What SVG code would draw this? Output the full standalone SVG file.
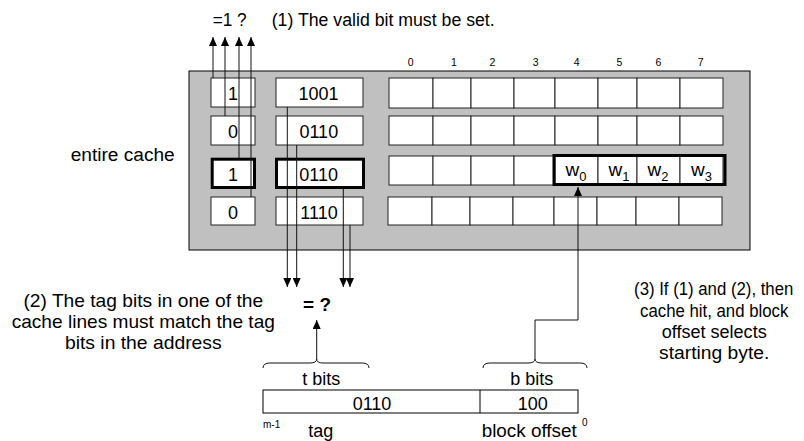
<svg xmlns="http://www.w3.org/2000/svg" width="804" height="441" viewBox="0 0 804 441">
<style>
text{font-family:"Liberation Sans",Arial,sans-serif;fill:#000}
.t{font-size:18px}
.c{font-size:18px;text-anchor:middle}
.col{font-size:10.5px;text-anchor:middle}
.sm{font-size:10px}
.cell{fill:#fff;stroke:#222;stroke-width:1}
.thick{fill:#fff;stroke:#000;stroke-width:3}
.ln{fill:none;stroke:#111;stroke-width:1}
.br{fill:none;stroke:#111;stroke-width:1}
</style>
<defs>
<marker id="ah" viewBox="0 0 9 8" refX="9" refY="4" markerWidth="9" markerHeight="8" markerUnits="userSpaceOnUse" orient="auto"><path d="M0,0 L9,4 L0,8 z" fill="#000"/></marker>
</defs>

<g id="cache">
<rect x="189" y="71" width="561" height="179" fill="#c0c0c0" stroke="#000" stroke-width="1"/>
</g>

<g id="valid-bits">
<rect class="cell" x="211" y="78" width="44" height="29"/>
<rect class="cell" x="211" y="116" width="44" height="29"/>
<rect class="thick" x="212.2" y="159.2" width="42.3" height="28.3"/>
<rect class="cell" x="211" y="197" width="44" height="28"/>
<text class="c" x="233" y="100">1</text>
<text class="c" x="233" y="138">0</text>
<text class="c" x="233" y="180.5">1</text>
<text class="c" x="233" y="218.5">0</text>
</g>

<g id="tags">
<rect class="cell" x="276" y="78" width="87" height="29"/>
<rect class="cell" x="276" y="116" width="87" height="29"/>
<rect class="thick" x="276.5" y="159.2" width="87" height="28.3"/>
<rect class="cell" x="276" y="197" width="87" height="28"/>
<text class="c" x="318.5" y="100">1001</text>
<text class="c" x="318.8" y="138">0110</text>
<text class="c" x="318.7" y="180.5">0110</text>
<text class="c" x="319" y="218.5">1110</text>
</g>

<g id="data-blocks">
<g id="row1">
<rect class="cell" x="389" y="78" width="44" height="30"/><rect class="cell" x="433" y="78" width="38" height="30"/><rect class="cell" x="471" y="78" width="43" height="30"/><rect class="cell" x="514" y="78" width="41" height="30"/><rect class="cell" x="555" y="78" width="43" height="30"/><rect class="cell" x="598" y="78" width="39" height="30"/><rect class="cell" x="637" y="78" width="43" height="30"/><rect class="cell" x="680" y="78" width="43" height="30"/>
</g>
<g id="row2">
<rect class="cell" x="389" y="116" width="44" height="29"/><rect class="cell" x="433" y="116" width="38" height="29"/><rect class="cell" x="471" y="116" width="43" height="29"/><rect class="cell" x="514" y="116" width="41" height="29"/><rect class="cell" x="555" y="116" width="43" height="29"/><rect class="cell" x="598" y="116" width="39" height="29"/><rect class="cell" x="637" y="116" width="43" height="29"/><rect class="cell" x="680" y="116" width="43" height="29"/>
</g>
<g id="row3">
<rect class="cell" x="389" y="156" width="44" height="29"/><rect class="cell" x="433" y="156" width="38" height="29"/><rect class="cell" x="471" y="156" width="43" height="29"/><rect class="cell" x="514" y="156" width="41" height="29"/><rect class="cell" x="555" y="156" width="43" height="29"/><rect class="cell" x="598" y="156" width="39" height="29"/><rect class="cell" x="637" y="156" width="43" height="29"/><rect class="cell" x="680" y="156" width="43" height="29"/>
<rect x="554" y="155.5" width="171" height="29" fill="none" stroke="#000" stroke-width="3"/>
<text x="565.5" y="176" font-size="19">w<tspan font-size="13" dy="5">0</tspan></text>
<text x="608.5" y="176" font-size="19">w<tspan font-size="13" dy="5">1</tspan></text>
<text x="647.5" y="176" font-size="19">w<tspan font-size="13" dy="5">2</tspan></text>
<text x="691" y="176" font-size="19">w<tspan font-size="13" dy="5">3</tspan></text>
</g>
<g id="row4">
<rect class="cell" x="388" y="197" width="44" height="28"/><rect class="cell" x="432" y="197" width="38" height="28"/><rect class="cell" x="470" y="197" width="43" height="28"/><rect class="cell" x="513" y="197" width="41" height="28"/><rect class="cell" x="554" y="197" width="43" height="28"/><rect class="cell" x="597" y="197" width="39" height="28"/><rect class="cell" x="636" y="197" width="43" height="28"/><rect class="cell" x="679" y="197" width="43" height="28"/>
</g>
</g>

<g id="column-labels">
<text class="col" x="410.7" y="66">0</text>
<text class="col" x="454" y="66">1</text>
<text class="col" x="492.3" y="66">2</text>
<text class="col" x="535.7" y="66">3</text>
<text class="col" x="576.7" y="66">4</text>
<text class="col" x="619.3" y="66">5</text>
<text class="col" x="658.3" y="66">6</text>
<text class="col" x="700.7" y="66">7</text>
</g>

<g id="address">
<rect x="263" y="390" width="315" height="23" fill="#fff" stroke="#000" stroke-width="1"/>
<line x1="480" y1="390" x2="480" y2="413" stroke="#000" stroke-width="1"/>
<text class="c" x="372" y="410">0110</text>
<text class="c" x="532.8" y="410">100</text>
<text class="c" x="321.3" y="385">t bits</text>
<text class="c" x="531.7" y="385">b bits</text>
<text class="sm" x="263" y="428">m-1</text>
<text class="sm" x="582" y="426">0</text>
<text class="t" x="308.3" y="436.5">tag</text>
<text class="t" x="481.7" y="436.5" textLength="95" lengthAdjust="spacingAndGlyphs">block offset</text>
<path class="br" d="M263,368 Q263,363 270,363 L310,363 Q316.7,363 316.7,359 Q316.7,363 323,363 L362,363 Q369,363 369,368"/>
<path class="br" d="M483,368 Q483,363 490,363 L528,363 Q535,363 535,359 Q535,363 542,363 L580,363 Q587,363 587,368"/>
</g>

<g id="connectors">
<line class="ln" x1="213" y1="78" x2="213" y2="37" marker-end="url(#ah)"/>
<line class="ln" x1="225" y1="116" x2="225" y2="37" marker-end="url(#ah)"/>
<line class="ln" x1="239" y1="158" x2="239" y2="37" marker-end="url(#ah)"/>
<line class="ln" x1="251" y1="197" x2="251" y2="37" marker-end="url(#ah)"/>
<line class="ln" x1="287.3" y1="107" x2="287.3" y2="287" marker-end="url(#ah)"/>
<line class="ln" x1="296.7" y1="145" x2="296.7" y2="287" marker-end="url(#ah)"/>
<line class="ln" x1="343.3" y1="188" x2="343.3" y2="287" marker-end="url(#ah)"/>
<line class="ln" x1="350" y1="225" x2="350" y2="287" marker-end="url(#ah)"/>
<line class="ln" x1="316.7" y1="359" x2="316.7" y2="320" marker-end="url(#ah)"/>
<polyline class="ln" points="535,359 535,320 578,320 578,187" marker-end="url(#ah)"/>
</g>

<g id="labels">
<text class="t" x="212.7" y="26" textLength="34" lengthAdjust="spacingAndGlyphs">=1 ?</text>
<text class="t" x="271.7" y="26" textLength="223" lengthAdjust="spacingAndGlyphs">(1) The valid bit must be set.</text>
<text class="t" x="70.7" y="161" textLength="104" lengthAdjust="spacingAndGlyphs">entire cache</text>
<text x="303" y="311" font-size="19" font-weight="bold" textLength="28" lengthAdjust="spacingAndGlyphs">= ?</text>
<g font-size="18.5" text-anchor="middle">
<text x="143.3" y="306.5" textLength="239.7" lengthAdjust="spacingAndGlyphs">(2) The tag bits in one of the</text>
<text x="143.3" y="327.5" textLength="263.3" lengthAdjust="spacingAndGlyphs">cache lines must match the tag</text>
<text x="143.3" y="349" textLength="156.7" lengthAdjust="spacingAndGlyphs">bits in the address</text>
</g>
<g font-size="17.5" text-anchor="middle">
<text x="713.7" y="295" textLength="159.3" lengthAdjust="spacingAndGlyphs">(3) If (1) and (2), then</text>
<text x="714.2" y="316.5" textLength="148.3" lengthAdjust="spacingAndGlyphs">cache hit, and block</text>
<text x="714.2" y="338" textLength="105" lengthAdjust="spacingAndGlyphs">offset selects</text>
<text x="714.2" y="358.5" textLength="110.3" lengthAdjust="spacingAndGlyphs">starting byte.</text>
</g>
</g>
</svg>
